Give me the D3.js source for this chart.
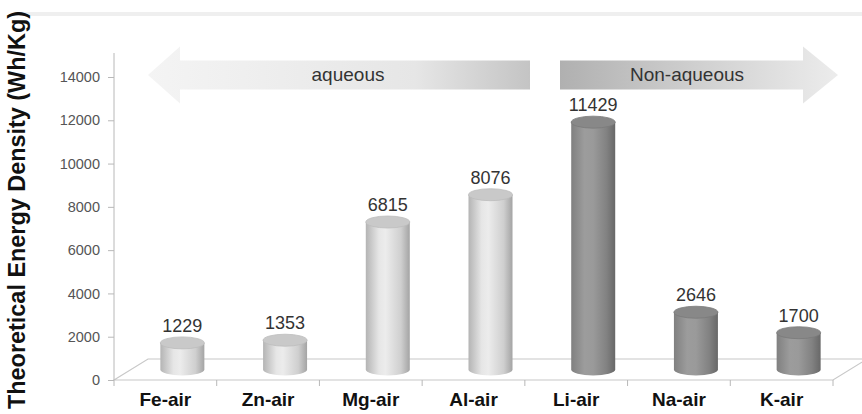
<!DOCTYPE html>
<html>
<head>
<meta charset="utf-8">
<script src="https://cdn.jsdelivr.net/npm/d3@7/dist/d3.min.js"></script>
<style>
  html, body { margin: 0; padding: 0; background: #fff; }
  svg { display: block; font-family: "Liberation Sans", Arial, sans-serif; }
</style>
</head>
<body>
<div id="chart"></div>
<script>
// chart data
var categories = ["Fe-air", "Zn-air", "Mg-air", "Al-air", "Li-air", "Na-air", "K-air"];
var energyDensity = [1229, 1353, 6815, 8076, 11429, 2646, 1700];
var electrolyte = ["aqueous", "aqueous", "aqueous", "aqueous", "non", "non", "non"];
var yTicks = [0, 2000, 4000, 6000, 8000, 10000, 12000, 14000];
var arrowLabels = ["aqueous", "Non-aqueous"];

(function(){
    var W = 862, H = 414;
    var x0 = 114, x1 = 833, yBase = 380, yTop = 77;
    //depth of the 3d floor
    var dx = 34, dy = -21;
    var barW = 44, ry = 6;

    var svg = d3.select("#chart").append("svg")
        .attr("width", W).attr("height", H);

    var defs = svg.append("defs");

    function gradient(id, stops){
        var g = defs.append("linearGradient").attr("id", id)
            .attr("x1", 0).attr("y1", 0).attr("x2", 1).attr("y2", 0);
        stops.forEach(function(s){
            g.append("stop").attr("offset", s[0]).attr("stop-color", s[1]);
        });
    }
    gradient("barLight", [[0, "#b4b4b4"], [0.3, "#e6e6e6"], [0.45, "#ececec"], [0.8, "#cfcfcf"], [1, "#a4a4a4"]]);
    gradient("barDark", [[0, "#808080"], [0.3, "#9c9c9c"], [0.5, "#9a9a9a"], [0.8, "#828282"], [1, "#686868"]]);
    gradient("arrowLeft", [[0, "#f4f4f4"], [0.7, "#e6e6e6"], [1, "#c4c4c4"]]);
    gradient("arrowRight", [[0, "#b0b0b0"], [0.5, "#d0d0d0"], [1, "#ececec"]]);

    var x = d3.scaleBand().domain(categories).range([x0, x1]);
    var y = d3.scaleLinear().domain([0, 14000]).range([yBase, yTop]);

    //top strip
    svg.append("rect").attr("x", 20).attr("y", 12).attr("width", W - 20).attr("height", 4)
        .attr("fill", "#efefef");

    //floor
    svg.append("path")
        .attr("d", "M" + x0 + "," + yBase + "L" + (x0 + dx) + "," + (yBase + dy) +
            "L" + (x1 + dx) + "," + (yBase + dy) + "L" + x1 + "," + yBase + "Z")
        .attr("fill", "none").attr("stroke", "#c8c8c8").attr("stroke-width", 1.2);

    //y axis
    var yAxis = d3.axisLeft(y).tickValues(yTicks).tickFormat(d3.format("d"))
        .tickSize(6).tickSizeOuter(0).tickPadding(8);
    var gy = svg.append("g").attr("transform", "translate(" + x0 + ",0)").call(yAxis);
    gy.select(".domain").attr("stroke", "#b8b8b8").attr("d", "M0,53V" + yBase);
    gy.selectAll(".tick line").attr("stroke", "#b8b8b8");
    gy.selectAll(".tick text").attr("fill", "#555").style("font-size", "14.5px")
        .style("font-family", "'Liberation Sans', Arial, sans-serif");

    //x axis
    var xAxis = d3.axisBottom(x).tickSize(0).tickPadding(13);
    var gx = svg.append("g").attr("transform", "translate(0," + yBase + ")").call(xAxis);
    gx.select(".domain").remove();
    gx.selectAll(".tick text").attr("fill", "#111").style("font-size", "19px").style("font-weight", "bold")
        .style("font-family", "'Liberation Sans', Arial, sans-serif");
    var sep = categories.map(function(c){ return x(c); }).concat([x1]);
    gx.selectAll(".sep").data(sep).enter().append("line")
        .attr("x1", function(d){ return d; }).attr("x2", function(d){ return d; })
        .attr("y1", 0).attr("y2", 6).attr("stroke", "#b8b8b8");

    //y title
    svg.append("text")
        .attr("transform", "translate(25," + 210 + ") rotate(-90)")
        .attr("text-anchor", "middle")
        .style("font-size", "23px").style("font-weight", "bold").attr("fill", "#111")
        .attr("textLength", 398).attr("lengthAdjust", "spacingAndGlyphs")
        .text("Theoretical Energy Density (Wh/Kg)");

    //cylinders
    var bars = svg.append("g").selectAll("g").data(categories).enter().append("g");
    function cx(c){ return x(c) + x.bandwidth() / 2 + dx / 2; }
    function topY(i){ return y(energyDensity[i]) + dy / 2; }
    var baseY = yBase + dy / 2;

    bars.append("path")
        .attr("d", function(c, i){
            var l = cx(c) - barW / 2, r = cx(c) + barW / 2, t = topY(i);
            return "M" + l + "," + t + "L" + l + "," + baseY +
                "A" + (barW / 2) + "," + ry + " 0 0 0 " + r + "," + baseY +
                "L" + r + "," + t + "Z";
        })
        .attr("fill", function(c, i){ return electrolyte[i] == "aqueous" ? "url(#barLight)" : "url(#barDark)"; });

    bars.append("ellipse")
        .attr("cx", cx).attr("cy", function(c, i){ return topY(i); })
        .attr("rx", barW / 2).attr("ry", ry)
        .attr("fill", function(c, i){ return electrolyte[i] == "aqueous" ? "#c9c9c9" : "#888"; })
        .attr("stroke", function(c, i){ return electrolyte[i] == "aqueous" ? "#bdbdbd" : "#7a7a7a"; })
        .attr("stroke-width", 0.8);

    bars.append("text")
        .attr("x", cx).attr("y", function(c, i){ return topY(i) - ry - 5; })
        .attr("text-anchor", "middle").attr("fill", "#333").style("font-size", "18px")
        .text(function(c, i){ return energyDensity[i]; });

    //direction arrows
    var ay = 75, shaftH = 29, headH = 57;
    var left = { tip: 148, base: 180, end: 530 };
    svg.append("path")
        .attr("d", "M" + left.tip + "," + ay + "L" + left.base + "," + (ay - headH / 2) +
            "L" + left.base + "," + (ay - shaftH / 2) + "L" + left.end + "," + (ay - shaftH / 2) +
            "L" + left.end + "," + (ay + shaftH / 2) + "L" + left.base + "," + (ay + shaftH / 2) +
            "L" + left.base + "," + (ay + headH / 2) + "Z")
        .attr("fill", "url(#arrowLeft)");
    svg.append("text").attr("x", 348).attr("y", ay + 6).attr("text-anchor", "middle")
        .attr("fill", "#333").style("font-size", "19px").text(arrowLabels[0]);

    var right = { start: 560, base: 803, tip: 838 };
    svg.append("path")
        .attr("d", "M" + right.start + "," + (ay - shaftH / 2) + "L" + right.base + "," + (ay - shaftH / 2) +
            "L" + right.base + "," + (ay - headH / 2) + "L" + right.tip + "," + ay +
            "L" + right.base + "," + (ay + headH / 2) + "L" + right.base + "," + (ay + shaftH / 2) +
            "L" + right.start + "," + (ay + shaftH / 2) + "Z")
        .attr("fill", "url(#arrowRight)");
    svg.append("text").attr("x", 687).attr("y", ay + 6).attr("text-anchor", "middle")
        .attr("fill", "#333").style("font-size", "19px").text(arrowLabels[1]);
})();
</script>
</body>
</html>
